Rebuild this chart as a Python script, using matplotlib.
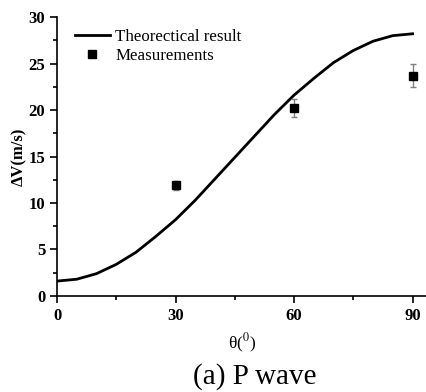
import matplotlib
matplotlib.use("Agg")
import matplotlib.pyplot as plt
from matplotlib.ticker import MultipleLocator
from matplotlib.lines import Line2D

plt.rcParams['font.family'] = ['Liberation Serif', 'DejaVu Serif']
plt.rcParams['mathtext.fontset'] = 'stix'

theta_curve = [0, 5, 10, 15, 20, 25, 30, 35, 40, 45, 50, 55, 60, 65, 70, 75, 80, 85, 90]
dv_curve = [1.6, 1.8, 2.4, 3.4, 4.7, 6.4, 8.2, 10.3, 12.6, 14.9, 17.2, 19.5, 21.6,
            23.4, 25.1, 26.4, 27.4, 28.0, 28.2]

theta_meas = [30, 60, 90]
dv_meas = [11.9, 20.2, 23.7]
dv_err = [0.45, 1.0, 1.2]

fig = plt.figure(figsize=(4.27, 3.92), dpi=100)
ax = fig.add_axes([0.1335, 0.245, 0.865, 0.7115])

ax.plot(theta_curve, dv_curve, color='black', lw=2)
ax.errorbar(theta_meas, dv_meas, yerr=dv_err, fmt='s', color='black', ms=6,
            ecolor='#808080', elinewidth=1, capsize=2.2, capthick=1)

ax.set_xlim(0, 93.5)
ax.set_ylim(0, 30)
ax.xaxis.set_major_locator(MultipleLocator(30))
ax.xaxis.set_minor_locator(MultipleLocator(15))
ax.yaxis.set_major_locator(MultipleLocator(5))
ax.yaxis.set_minor_locator(MultipleLocator(2.5))
for s in ['top', 'right']:
    ax.spines[s].set_visible(False)
for s in ['left', 'bottom']:
    ax.spines[s].set_linewidth(1.2)
ax.tick_params(which='major', direction='out', length=5, width=1.2, labelsize=12)
ax.tick_params(which='minor', direction='out', length=3, width=1.2)
for lab in ax.get_xticklabels() + ax.get_yticklabels():
    lab.set_fontweight('bold')

ax.set_ylabel('ΔV(m/s)', fontsize=12, fontweight='bold', labelpad=1)
ax.set_xlabel(r'θ($^{0}$)', fontsize=12.5, labelpad=6)

handles = [Line2D([], [], color='black', lw=2),
           Line2D([], [], color='black', marker='s', ms=6, ls='none')]
labels = ['Theorectical result', 'Measurements']
leg = ax.legend(handles, labels, loc='upper left', bbox_to_anchor=(0.02, 0.995),
                frameon=False, fontsize=12.2, handlelength=2.1, handletextpad=0.3,
                labelspacing=0.2, borderaxespad=0.2)

fig.text(0.597, 0.022, '(a) P wave', ha='center', va='baseline', fontsize=21)

fig.savefig('out.png', dpi=100)
